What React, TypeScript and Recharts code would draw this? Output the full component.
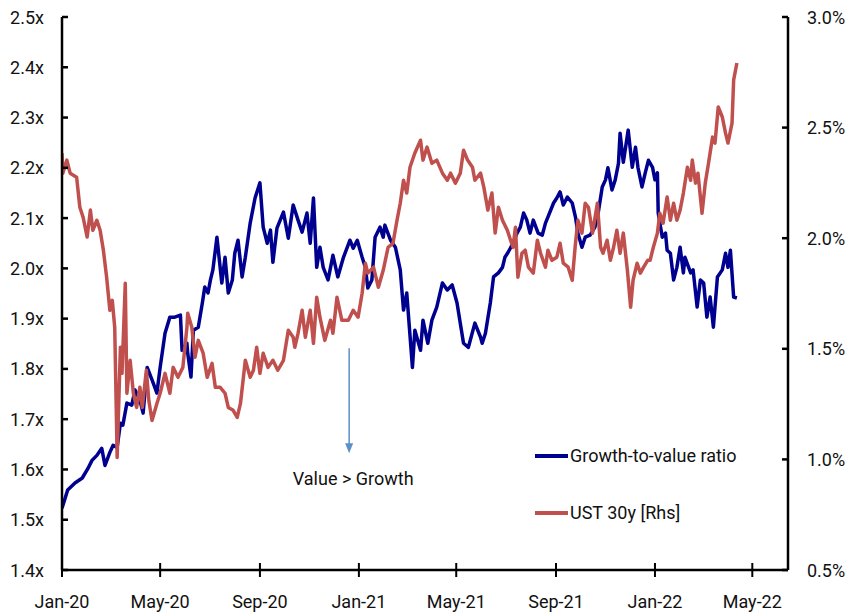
import React from 'react';
import { LineChart, Line, XAxis, YAxis, Legend, ReferenceLine } from 'recharts';

// days since 1 Jan 2020
const growthDays = [
  0, 7, 16, 25, 32, 37, 43, 49, 53, 59, 63, 68, 72, 75, 80, 86, 90, 96, 100, 105,
  111, 117, 121, 127, 133, 139, 146, 148, 154, 155, 159, 162, 168, 173, 176, 180, 183, 186, 191, 197,
  201, 205, 210, 213, 217, 222, 226, 232, 238, 244, 248, 253, 257, 260, 265, 273, 279, 285, 291, 296,
  302, 306, 310, 314, 318, 322, 328, 334, 340, 347, 355, 359, 364, 370, 374, 377, 382, 386, 392, 396,
  398, 405, 411, 417, 421, 425, 432, 435, 442, 445, 451, 456, 462, 469, 475, 481, 487, 491, 495, 501,
  509, 516, 518, 522, 528, 532, 538, 543, 546, 550, 556, 561, 565, 569, 573, 577, 581, 587, 592, 596,
  599, 606, 610, 614, 618, 623, 629, 633, 636, 641, 645, 651, 657, 661, 666, 670, 673, 678, 682, 686,
  688, 692, 698, 703, 707, 710, 715, 719, 723, 728, 731, 734, 735, 740, 744, 746, 750, 754, 758, 762,
  766, 768, 775, 778, 783, 787, 791, 795, 799, 803, 808, 814, 818, 821, 824, 828, 832,
];
const growthRatio = [
  1.523, 1.559, 1.573, 1.583, 1.602, 1.618, 1.628, 1.642, 1.608, 1.634, 1.648, 1.644, 1.692, 1.688, 1.732, 1.728, 1.758, 1.738, 1.712, 1.803,
  1.778, 1.752, 1.803, 1.871, 1.903, 1.903, 1.907, 1.837, 1.851, 1.831, 1.784, 1.877, 1.883, 1.931, 1.963, 1.951, 1.977, 1.997, 2.062, 1.971,
  2.022, 1.951, 1.977, 2.03, 2.056, 1.983, 2.022, 2.09, 2.14, 2.17, 2.082, 2.05, 2.076, 2.012, 2.08, 2.112, 2.06, 2.126, 2.096, 2.072,
  2.11, 2.05, 2.14, 2.002, 2.042, 2.002, 1.977, 2.026, 1.983, 2.022, 2.056, 2.04, 2.056, 2.022, 2.002, 1.961, 1.977, 2.062, 2.082, 2.062,
  2.086, 2.056, 2.042, 1.997, 1.917, 1.951, 1.803, 1.877, 1.837, 1.897, 1.851, 1.897, 1.923, 1.971, 1.957, 1.967, 1.931, 1.891, 1.851, 1.843,
  1.891, 1.863, 1.851, 1.871, 1.931, 1.983, 1.991, 2.002, 2.022, 2.032, 2.05, 2.07, 2.082, 2.11, 2.096, 2.07, 2.096, 2.07, 2.066, 2.09,
  2.102, 2.13, 2.14, 2.152, 2.126, 2.142, 2.13, 2.102, 2.07, 2.042, 2.062, 2.066, 2.082, 2.11, 2.162, 2.176, 2.2, 2.156, 2.176, 2.209,
  2.269, 2.211, 2.275, 2.201, 2.241, 2.201, 2.162, 2.19, 2.215, 2.201, 2.176, 2.19, 2.11, 2.062, 2.07, 2.036, 2.03, 1.977, 2.002, 2.042,
  1.991, 2.022, 1.991, 1.997, 1.923, 1.977, 1.971, 1.903, 1.943, 1.883, 1.983, 1.997, 2.03, 2.002, 2.036, 1.943, 1.941,
];

const ustDays = [
  0, 1, 6, 10, 14, 18, 22, 26, 31, 35, 38, 43, 47, 51, 55, 59, 62, 65, 68, 72,
  74, 78, 80, 84, 88, 92, 96, 99, 104, 107, 111, 117, 121, 127, 133, 137, 143, 149, 154, 155,
  160, 164, 168, 174, 179, 185, 189, 195, 201, 205, 211, 216, 220, 226, 232, 236, 240, 244, 248, 254,
  260, 266, 273, 279, 285, 287, 291, 296, 300, 306, 310, 314, 318, 324, 331, 334, 339, 345, 353, 359,
  365, 370, 374, 377, 384, 390, 396, 402, 408, 413, 417, 421, 425, 429, 435, 442, 445, 450, 456, 462,
  469, 475, 479, 485, 491, 495, 500, 506, 509, 516, 520, 525, 530, 534, 538, 543, 549, 553, 556, 559,
  562, 567, 571, 575, 581, 586, 590, 596, 599, 604, 610, 614, 618, 624, 629, 633, 636, 641, 645, 649,
  654, 660, 664, 667, 672, 676, 680, 684, 688, 692, 697, 701, 704, 709, 713, 717, 722, 725, 729, 734,
  737, 741, 746, 750, 754, 758, 762, 766, 771, 775, 777, 781, 784, 789, 793, 797, 802, 805, 809, 814,
  818, 821, 826, 828, 832,
];
const ustYield = [
  2.385, 2.294, 2.353, 2.294, 2.285, 2.276, 2.14, 2.095, 2.005, 2.127, 2.036, 2.081, 2.036, 1.946, 1.824, 1.674, 1.719, 1.597, 1.009, 1.507,
  1.389, 1.796, 1.299, 1.448, 1.299, 1.235, 1.326, 1.235, 1.403, 1.267, 1.176, 1.253, 1.299, 1.389, 1.299, 1.416, 1.371, 1.416, 1.597, 1.661,
  1.597, 1.462, 1.538, 1.48, 1.371, 1.434, 1.326, 1.326, 1.299, 1.235, 1.222, 1.19, 1.253, 1.448, 1.371, 1.403, 1.507, 1.389, 1.48, 1.416,
  1.448, 1.403, 1.448, 1.584, 1.552, 1.507, 1.57, 1.674, 1.552, 1.674, 1.525, 1.733, 1.643, 1.538, 1.629, 1.57, 1.733, 1.629, 1.629, 1.674,
  1.643, 1.751, 1.887, 1.842, 1.869, 1.778, 1.855, 1.959, 1.977, 2.081, 2.158, 2.262, 2.204, 2.321, 2.385, 2.443, 2.353, 2.412, 2.339, 2.353,
  2.294, 2.262, 2.294, 2.249, 2.294, 2.398, 2.353, 2.321, 2.262, 2.294, 2.231, 2.127, 2.204, 2.023, 2.14, 2.081, 2.036, 1.991, 1.959, 2.05,
  1.824, 1.932, 1.946, 1.869, 1.842, 1.991, 1.932, 1.869, 1.946, 1.9, 1.914, 1.977, 1.887, 1.869, 1.81, 1.977, 2.081, 2.023, 2.158, 2.14,
  2.023, 2.158, 1.959, 1.932, 1.991, 1.9, 1.959, 2.036, 1.932, 2.023, 1.855, 1.688, 1.81, 1.887, 1.842, 1.869, 1.9, 1.9, 1.959, 2.023,
  2.113, 2.068, 2.186, 2.081, 2.158, 2.081, 2.127, 2.204, 2.321, 2.262, 2.353, 2.249, 2.294, 2.113, 2.249, 2.339, 2.457, 2.43, 2.593, 2.548,
  2.475, 2.43, 2.52, 2.715, 2.792,
];

const dateTicks = [0, 121, 244, 366, 486, 609, 731, 851];
const dateLabels = ['Jan-20', 'May-20', 'Sep-20', 'Jan-21', 'May-21', 'Sep-21', 'Jan-22', 'May-22'];
const ratioTicks = [1.4, 1.5, 1.6, 1.7, 1.8, 1.9, 2.0, 2.1, 2.2, 2.3, 2.4, 2.5];
const yieldTicks = [0.5, 1.0, 1.5, 2.0, 2.5, 3.0];

const growthData = growthDays.map((d, i) => ({ day: d, v: growthRatio[i] }));
const ustData = ustDays.map((d, i) => ({ day: d, v: ustYield[i] }));

const BLUE = '#000090';
const RED = '#C0504D';
const FONT = 'Roboto, "Liberation Sans Narrow", sans-serif';
const FS = 18;

const LeftTick = (props: any) => {
  const { x, y, payload } = props;
  return (
    <g>
      <line x1={x} y1={y} x2={x + 6} y2={y} stroke="#000" strokeWidth={2.5} />
      <text x={x - 18} y={y} textAnchor="end" dominantBaseline="central" fontFamily={FONT} fontSize={FS} fill="#111">
        {payload.value.toFixed(1) + 'x'}
      </text>
    </g>
  );
};

const RightTick = (props: any) => {
  const { x, y, payload } = props;
  return (
    <g>
      <line x1={x - 6} y1={y} x2={x} y2={y} stroke="#000" strokeWidth={2.5} />
      <text x={x + 19} y={y} textAnchor="start" dominantBaseline="central" fontFamily={FONT} fontSize={FS} fill="#111">
        {payload.value.toFixed(1) + '%'}
      </text>
    </g>
  );
};

const BottomTick = (props: any) => {
  const { x, y, payload } = props;
  const idx = dateTicks.indexOf(payload.value);
  return (
    <g>
      <line x1={x} y1={y - 7} x2={x} y2={y + 7} stroke="#000" strokeWidth={2} />
      <text x={x} y={y + 38} textAnchor="middle" fontFamily={FONT} fontSize={FS} fill="#111">
        {dateLabels[idx]}
      </text>
    </g>
  );
};

// arrow + "Value > Growth" note
const ArrowNote = (props: any) => {
  const { x1, y1, x2, y2 } = props;
  return (
    <g>
      <line x1={x1} y1={y1} x2={x2} y2={y2 - 8} stroke="#5B8FC9" strokeWidth={1.5} />
      <polygon points={`${x2 - 4},${y2 - 10} ${x2 + 4},${y2 - 10} ${x2},${y2}`} fill="#5B8FC9" />
      <text x={x2 + 4} y={y2 + 32} textAnchor="middle" fontFamily={FONT} fontSize={FS} fill="#111">
        Value &gt; Growth
      </text>
    </g>
  );
};

const LegendBox = () => {
  const rows = [
    { name: 'Growth-to-value ratio', color: BLUE },
    { name: 'UST 30y [Rhs]', color: RED },
  ];
  return (
    <div style={{ fontFamily: FONT, fontSize: FS, color: '#111' }}>
      {rows.map((r) => (
        <div key={r.name} style={{ display: 'flex', alignItems: 'center', height: 57 }}>
          <span style={{ display: 'inline-block', width: 33, height: 4, background: r.color, marginRight: 2 }} />
          <span>{r.name}</span>
        </div>
      ))}
    </div>
  );
};

export default function App() {
  return (
    <div style={{ position: 'absolute', left: 0, top: 0, background: '#fff' }}>
      <LineChart width={849} height={614} margin={{ top: 17, right: 0, bottom: 0, left: 0 }}>
        <XAxis
          dataKey="day"
          type="number"
          domain={[0, 895]}
          ticks={dateTicks}
          height={44}
          tickLine={false}
          tickSize={0}
          tickMargin={0}
          axisLine={{ stroke: '#000', strokeWidth: 2.5 }}
          tick={<BottomTick />}
          allowDataOverflow
        />
        <YAxis
          yAxisId="left"
          orientation="left"
          width={62}
          domain={[1.4, 2.5]}
          ticks={ratioTicks}
          tickLine={false}
          tickSize={0}
          tickMargin={0}
          axisLine={{ stroke: '#000', strokeWidth: 2.5 }}
          tick={<LeftTick />}
          interval={0}
          allowDataOverflow
        />
        <YAxis
          yAxisId="right"
          orientation="right"
          width={61}
          domain={[0.5, 3.0]}
          ticks={yieldTicks}
          tickLine={false}
          tickSize={0}
          tickMargin={0}
          axisLine={{ stroke: '#000', strokeWidth: 2.5 }}
          tick={<RightTick />}
          interval={0}
          allowDataOverflow
        />
        <ReferenceLine
          yAxisId="left"
          segment={[{ x: 354, y: 1.841 }, { x: 354, y: 1.632 }]}
          stroke="#5B8FC9"
          shape={<ArrowNote />}
          ifOverflow="visible"
        />
        <Line
          yAxisId="left"
          data={growthData}
          dataKey="v"
          name="Growth-to-value ratio"
          type="linear"
          stroke={BLUE}
          strokeWidth={3.5}
          strokeLinejoin="round"
          dot={false}
          activeDot={false}
          isAnimationActive={false}
        />
        <Line
          yAxisId="right"
          data={ustData}
          dataKey="v"
          name="UST 30y [Rhs]"
          type="linear"
          stroke={RED}
          strokeWidth={3.5}
          strokeLinejoin="round"
          dot={false}
          activeDot={false}
          isAnimationActive={false}
        />
        <Legend
          layout="vertical"
          align="center"
          verticalAlign="middle"
          content={<LegendBox />}
          wrapperStyle={{ left: 535, top: 427, width: 240, height: 114 }}
        />
      </LineChart>
    </div>
  );
}
